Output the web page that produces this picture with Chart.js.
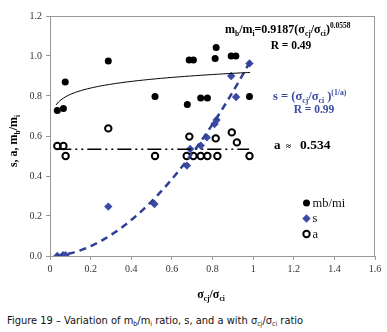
<!DOCTYPE html>
<html>
<head>
<meta charset="utf-8">
<script src="https://cdn.jsdelivr.net/npm/chart.js@4.4.0/dist/chart.umd.min.js"></script>
<style>
  html, body { margin: 0; padding: 0; background: #fff; }
  #wrap { position: relative; width: 387px; height: 332px; }
  #chart { position: absolute; left: 0; top: 0; }
  #caption {
    position: absolute; left: 7px; top: 314px; white-space: nowrap;
    font-family: "Liberation Sans Narrow", "DejaVu Sans Condensed", sans-serif;
    font-size: 11px; color: #111;
  }
  #caption sub { font-size: 7px; vertical-align: -2px; }
</style>
</head>
<body>
<div id="wrap">
  <canvas id="chart" width="387" height="305"></canvas>
  <div id="caption">Figure 19 – Variation of m<sub>b</sub>/m<sub>i</sub> ratio, s, and a with σ<sub>cj</sub>/σ<sub>ci</sub> ratio</div>
</div>
<script>
// measured points (x = sigma_cj / sigma_ci)
const mbX = [0.036, 0.066, 0.075, 0.287, 0.517, 0.676, 0.685, 0.706, 0.742, 0.775, 0.813, 0.818, 0.892, 0.915, 0.982];
const mbY = [0.728, 0.738, 0.870, 0.975, 0.797, 0.757, 0.980, 0.980, 0.790, 0.790, 0.988, 1.042, 1.000, 1.000, 0.797];

const sX = [0.036, 0.064, 0.076, 0.287, 0.514, 0.674, 0.690, 0.742, 0.772, 0.810, 0.820, 0.892, 0.916, 0.982];
const sY = [0.000, 0.004, 0.004, 0.247, 0.260, 0.452, 0.535, 0.552, 0.593, 0.660, 0.680, 0.900, 0.795, 0.963];

const aX = [0.036, 0.066, 0.077, 0.287, 0.517, 0.673, 0.686, 0.706, 0.742, 0.775, 0.816, 0.824, 0.895, 0.920, 0.982];
const aY = [0.550, 0.550, 0.500, 0.638, 0.500, 0.500, 0.597, 0.500, 0.500, 0.500, 0.588, 0.500, 0.618, 0.568, 0.500];

// fitted relations printed on the chart
const mbCoef = 0.9187, mbExp = 0.0558;
const aMean = 0.534;
const fitFrom = 0.03, fitTo = 0.985;

const xTicks = [0, 0.2, 0.4, 0.6, 0.8, 1, 1.2, 1.4, 1.6];
const yTicks = [0, 0.2, 0.4, 0.6, 0.8, 1.0, 1.2];

const BLUE = '#3B4BA3';
const BLUE_LINE = '#2E3F95';
const SERIF = '"Liberation Serif", "Times New Roman", serif';

Chart.defaults.font.family = SERIF;

const pts = (xs, ys) => xs.map((x, i) => ({ x: x, y: ys[i] }));

function curve(fn) {
  const out = [];
  const n = 80;
  for (let i = 0; i <= n; i++) {
    const x = fitFrom + (fitTo - fitFrom) * i / n;
    out.push({ x: x, y: fn(x) });
  }
  return out;
}

// draw text with subscripts / superscripts
function rich(ctx, x, y, parts, size, bold, color, align) {
  const w = bold ? 'bold ' : '';
  const small = size * 0.62;
  let total = 0;
  const widths = parts.map(p => {
    ctx.font = w + (p[1] ? small : size) + 'px ' + SERIF;
    const m = ctx.measureText(p[0]).width;
    total += m;
    return m;
  });
  let cx = x;
  if (align === 'center') cx = x - total / 2;
  if (align === 'right') cx = x - total;
  ctx.fillStyle = color;
  ctx.textAlign = 'left';
  ctx.textBaseline = 'alphabetic';
  parts.forEach((p, i) => {
    ctx.font = w + (p[1] ? small : size) + 'px ' + SERIF;
    let dy = 0;
    if (p[1] === 1) dy = size * 0.25;
    if (p[1] === 2) dy = -size * 0.42;
    ctx.fillText(p[0], cx, y + dy);
    cx += widths[i];
  });
  return total;
}

const decor = {
  id: 'decor',
  afterDraw(chart) {
    const ctx = chart.ctx;
    const a = chart.chartArea;
    ctx.save();
    // plot frame
    ctx.strokeStyle = '#999';
    ctx.lineWidth = 1;
    ctx.strokeRect(a.left + 0.5, a.top + 0.5, a.right - a.left - 1, a.bottom - a.top);

    // equations
    rich(ctx, 225, 33, [['m', 0], ['b', 1], ['/m', 0], ['i', 1], ['=0.9187(σ', 0], ['cj', 1], ['/σ', 0], ['ci', 1], [')', 0], ['0.0558', 2]], 12, true, '#000', 'left');
    rich(ctx, 291, 49, [['R = 0.49', 0]], 11.5, true, '#000', 'center');
    rich(ctx, 273, 100, [['s = (σ', 0], ['cj', 1], ['/σ', 0], ['ci', 1], [' )', 0], ['(1/a)', 2]], 12.5, true, BLUE, 'left');
    rich(ctx, 314, 113, [['R = 0.99', 0]], 11.5, true, BLUE, 'center');
    rich(ctx, 274, 149, [['a', 0]], 13, true, '#000', 'left');
    rich(ctx, 286, 149, [['≈', 0]], 9, true, '#000', 'left');
    rich(ctx, 300, 149, [['0.534', 0]], 13.5, true, '#000', 'left');

    // axis titles
    rich(ctx, 211, 298, [['σ', 0], ['cj', 1], ['/σ', 0], ['ci', 1]], 12, true, '#000', 'center');
    ctx.save();
    ctx.translate(17, 141);
    ctx.rotate(-Math.PI / 2);
    rich(ctx, 0, 0, [['s, a, m', 0], ['b', 1], ['/m', 0], ['i', 1]], 12, true, '#000', 'center');
    ctx.restore();

    // legend
    const lx = 306.5, ly = [203, 218.5, 234];
    ctx.fillStyle = '#000';
    ctx.beginPath(); ctx.arc(lx, ly[0], 3.5, 0, Math.PI * 2); ctx.fill();
    ctx.fillStyle = BLUE;
    ctx.beginPath();
    ctx.moveTo(lx, ly[1] - 4.2); ctx.lineTo(lx + 4.2, ly[1]); ctx.lineTo(lx, ly[1] + 4.2); ctx.lineTo(lx - 4.2, ly[1]);
    ctx.closePath(); ctx.fill();
    ctx.strokeStyle = '#000'; ctx.lineWidth = 2;
    ctx.beginPath(); ctx.arc(lx, ly[2], 3.2, 0, Math.PI * 2); ctx.stroke();
    ctx.font = '12.5px ' + SERIF;
    ctx.fillStyle = '#111';
    ctx.textBaseline = 'middle';
    ctx.textAlign = 'left';
    ctx.fillText('mb/mi', 312.5, ly[0] + 0.5);
    ctx.fillText('s', 312.5, ly[1] + 0.5);
    ctx.fillText('a', 312.5, ly[2] + 0.5);
    ctx.restore();
  }
};

new Chart(document.getElementById('chart'), {
  type: 'scatter',
  data: {
    datasets: [
      {
        label: 'mb/mi fit',
        type: 'line',
        data: curve(x => mbCoef * Math.pow(x, mbExp)),
        borderColor: '#000', borderWidth: 1, pointRadius: 0, fill: false, tension: 0
      },
      {
        label: 's fit',
        type: 'line',
        data: curve(x => Math.pow(x, 1 / aMean)),
        borderColor: BLUE_LINE, borderWidth: 2.5, borderDash: [7, 5], pointRadius: 0, fill: false, tension: 0
      },
      {
        label: 'a mean',
        type: 'line',
        data: [{ x: fitFrom + 0.006, y: aMean }, { x: fitTo - 0.005, y: aMean }],
        borderColor: '#000', borderWidth: 1.5, borderDash: [14, 4, 2, 4, 2, 4], pointRadius: 0, fill: false
      },
      {
        label: 'mb/mi',
        data: pts(mbX, mbY),
        pointStyle: 'circle', pointRadius: 3.5, backgroundColor: '#000', borderColor: '#000', borderWidth: 0
      },
      {
        label: 's',
        data: pts(sX, sY),
        pointStyle: 'rectRot', pointRadius: 4.2, backgroundColor: BLUE, borderColor: BLUE, borderWidth: 0
      },
      {
        label: 'a',
        data: pts(aX, aY),
        pointStyle: 'circle', pointRadius: 3.2, backgroundColor: 'rgba(255,255,255,0)', borderColor: '#000', borderWidth: 2
      }
    ]
  },
  options: {
    responsive: false,
    animation: false,
    layout: { padding: { left: 0, top: 16, right: 12, bottom: 0 } },
    plugins: { legend: { display: false }, tooltip: { enabled: false } },
    scales: {
      x: {
        type: 'linear',
        min: xTicks[0], max: xTicks[xTicks.length - 1],
        afterBuildTicks: s => { s.ticks = xTicks.map(v => ({ value: v })); },
        afterFit: s => { s.height = 49; },
        ticks: {
          padding: 3,
          color: '#333',
          font: { family: SERIF, size: 10 },
          callback: v => String(Math.round(v * 10) / 10)
        },
        grid: { drawOnChartArea: false, tickLength: 4, color: '#999' },
        border: { color: '#999' }
      },
      y: {
        type: 'linear',
        min: yTicks[0], max: yTicks[yTicks.length - 1],
        afterBuildTicks: s => { s.ticks = yTicks.map(v => ({ value: v })); },
        afterFit: s => { s.width = 50; },
        ticks: {
          padding: 4,
          color: '#333',
          font: { family: SERIF, size: 10 },
          callback: v => Number(v).toFixed(1)
        },
        grid: { drawOnChartArea: false, tickLength: 4, color: '#999' },
        border: { color: '#999' }
      }
    }
  },
  plugins: [decor]
});
</script>
</body>
</html>
